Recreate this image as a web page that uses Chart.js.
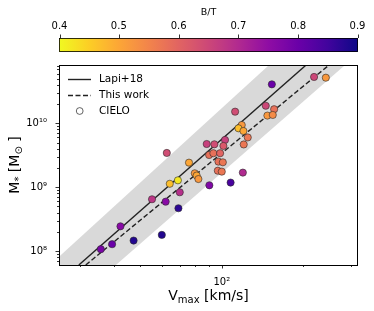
<!DOCTYPE html>
<html>
<head>
<meta charset="utf-8">
<script src="https://cdn.jsdelivr.net/npm/chart.js@4"></script>
<style>
  body { margin: 0; background: #fff; }
  canvas { display: block; }
</style>
</head>
<body>
<canvas id="myChart" width="374" height="311"></canvas>
<script>
// CIELO galaxies: Vmax [km/s], stellar mass [Msun], bulge-to-total ratio
var vmax = [35.8, 39.4, 47.3, 42.3, 55.3, 60.1, 62.7, 62.1, 69.2, 64.3, 68.9, 70.0, 75.7, 79.5, 80.8,
            82.0, 90.0, 107.8, 119.6, 88.0, 93.9, 102.8, 101.4, 89.8, 93.1, 98.6, 97.2, 100.9, 96.7,
            100.0, 118.5, 115.2, 120.2, 124.7, 120.5, 112.0, 153.0, 145.3, 156.0, 147.3, 154.2, 219, 242];
var mstar = [1.07e8, 1.28e8, 1.46e8, 2.44e8, 6.47e8, 1.79e8, 3.43e9, 5.93e8, 4.68e8, 1.13e9, 1.28e9, 8.32e8,
             2.42e9, 1.65e9, 1.52e9, 1.34e9, 1.07e9, 1.18e9, 1.69e9, 4.74e9, 4.69e9, 5.48e9, 4.42e9, 3.19e9,
             3.40e9, 3.40e9, 2.51e9, 2.45e9, 1.81e9, 1.75e9, 9.4e9, 8.35e9, 7.57e9, 6.0e9, 4.66e9, 1.52e10,
             4.07e10, 1.88e10, 1.66e10, 1.32e10, 1.35e10, 5.31e10, 5.17e10];
var bt = [0.78, 0.80, 0.88, 0.76, 0.68, 0.88, 0.64, 0.76, 0.87, 0.47, 0.42, 0.69, 0.50, 0.52, 0.50,
          0.52, 0.77, 0.84, 0.70, 0.66, 0.64, 0.66, 0.62, 0.58, 0.58, 0.60, 0.58, 0.57, 0.58,
          0.57, 0.52, 0.47, 0.50, 0.57, 0.57, 0.64, 0.80, 0.65, 0.58, 0.52, 0.54, 0.65, 0.52];

// relations (end points)
var lapiV = [29.7, 204.7];
var lapiM = [6.05e7, 8.17e10];
var workV = [31.5, 248.8];
var workM = [6.05e7, 8.17e10];
// grey band outline (clipped to the plot area)
var bandV = [23.25, 149.4, 285.1, 40.7];
var bandM = [6.05e7, 8.17e10, 8.17e10, 6.05e7];

// axes
var xMin = 25.1, xMax = 318;
var yMin = 6.05e7, yMax = 8.17e10;
var xTicks = [30, 40, 50, 60, 70, 80, 90, 100, 200, 300];
var yTicks = [7e7, 8e7, 9e7, 1e8, 2e8, 3e8, 4e8, 5e8, 6e8, 7e8, 8e8, 9e8,
              1e9, 2e9, 3e9, 4e9, 5e9, 6e9, 7e9, 8e9, 9e9,
              1e10, 2e10, 3e10, 4e10, 5e10, 6e10, 7e10, 8e10];
var xLabels = {100: '10²'};
var yLabels = {1e8: '10⁸', 1e9: '10⁹', 1e10: '10¹⁰'};

// colorbar
var cbMin = 0.4, cbMax = 0.9;
var cbTicks = [0.4, 0.5, 0.6, 0.7, 0.8, 0.9];

// plasma colormap stops
var plasma = ['#0d0887', '#41049d', '#6a00a8', '#8f0da4', '#b12a90', '#cc4778',
              '#e16462', '#f2844b', '#fca636', '#fcce25', '#f0f921'];

function hexRgb(h) {
    return [parseInt(h.substr(1, 2), 16), parseInt(h.substr(3, 2), 16), parseInt(h.substr(5, 2), 16)];
}
function plasmaColor(t) {
    t = Math.max(0, Math.min(1, t));
    var f = t * (plasma.length - 1);
    var i = Math.min(Math.floor(f), plasma.length - 2);
    var a = hexRgb(plasma[i]), b = hexRgb(plasma[i + 1]);
    var u = f - i;
    return 'rgb(' + [0, 1, 2].map(function (k) { return Math.round(a[k] + (b[k] - a[k]) * u); }).join(',') + ')';
}
// reversed: low B/T yellow, high B/T navy
function btColor(v) {
    return plasmaColor((cbMax - v) / (cbMax - cbMin));
}

function pts(xs, ys) {
    return xs.map(function (x, i) { return {x: x, y: ys[i]}; });
}

var FONT = '"DejaVu Sans", sans-serif';

var decor = {
    id: 'decor',
    afterDraw: function (chart) {
        var ctx = chart.ctx, a = chart.chartArea;
        var xs = chart.scales.x, ys = chart.scales.y;
        ctx.save();
        // frame
        ctx.strokeStyle = '#000';
        ctx.lineWidth = 1;
        ctx.strokeRect(a.left + 0.5, a.top + 0.5, a.right - a.left - 1, a.bottom - a.top);
        // tick marks
        ctx.lineWidth = 0.8;
        ctx.beginPath();
        xs.ticks.forEach(function (t) {
            var p = Math.round(xs.getPixelForValue(t.value)) + 0.5;
            var len = xLabels[t.value] ? 3.5 : 2;
            ctx.moveTo(p, a.bottom); ctx.lineTo(p, a.bottom + len);
        });
        ys.ticks.forEach(function (t) {
            var p = Math.round(ys.getPixelForValue(t.value)) + 0.5;
            var len = yLabels[t.value] ? 3.5 : 2;
            ctx.moveTo(a.left, p); ctx.lineTo(a.left - len, p);
        });
        ctx.stroke();

        // axis titles
        ctx.fillStyle = '#000';
        ctx.textBaseline = 'alphabetic';
        function mixed(parts, cx, cy) {
            var w = 0;
            parts.forEach(function (p) { ctx.font = p[1] + 'px ' + FONT; w += ctx.measureText(p[0]).width; });
            var x = cx - w / 2;
            parts.forEach(function (p) {
                ctx.font = p[1] + 'px ' + FONT;
                ctx.fillText(p[0], x, cy + p[2]);
                x += ctx.measureText(p[0]).width;
            });
        }
        ctx.textAlign = 'left';
        mixed([['V', 14, 0], ['max', 10, 3], [' [km/s]', 14, 0]], (a.left + a.right) / 2, 300);
        ctx.save();
        ctx.translate(19, (a.top + a.bottom) / 2);
        ctx.rotate(-Math.PI / 2);
        mixed([['M', 14, 0], ['*', 10, 3], [' [M', 14, 0], ['⊙', 10, 3], [' ]', 14, 0]], 0, 0);
        ctx.restore();

        // legend
        ctx.strokeStyle = '#222';
        ctx.lineWidth = 1.4;
        ctx.beginPath(); ctx.moveTo(68, 79.5); ctx.lineTo(91, 79.5); ctx.stroke();
        ctx.setLineDash([5, 2.5]);
        ctx.beginPath(); ctx.moveTo(68, 95.5); ctx.lineTo(91, 95.5); ctx.stroke();
        ctx.setLineDash([]);
        ctx.lineWidth = 0.7;
        ctx.beginPath(); ctx.arc(79.7, 111, 3.4, 0, Math.PI * 2); ctx.stroke();
        ctx.font = '10.5px ' + FONT;
        ctx.textBaseline = 'middle';
        ctx.fillText('Lapi+18', 99, 79.5);
        ctx.fillText('This work', 99, 95.5);
        ctx.fillText('CIELO', 99, 111);

        // colorbar
        var cx0 = a.left, cx1 = a.right, cy0 = 38, cy1 = 52;
        var g = ctx.createLinearGradient(cx0, 0, cx1, 0);
        for (var k = 0; k <= 20; k++) {
            g.addColorStop(k / 20, btColor(cbMin + (cbMax - cbMin) * k / 20));
        }
        ctx.fillStyle = g;
        ctx.fillRect(cx0, cy0, cx1 - cx0, cy1 - cy0);
        ctx.strokeStyle = '#000';
        ctx.lineWidth = 0.8;
        ctx.strokeRect(cx0 + 0.5, cy0 + 0.5, cx1 - cx0 - 1, cy1 - cy0 - 1);
        ctx.fillStyle = '#000';
        ctx.font = '10px ' + FONT;
        ctx.textAlign = 'center';
        ctx.textBaseline = 'alphabetic';
        ctx.beginPath();
        cbTicks.forEach(function (v) {
            var px = cx0 + (cx1 - cx0) * (v - cbMin) / (cbMax - cbMin);
            px = Math.min(Math.max(px, cx0 + 0.5), cx1 - 0.5);
            ctx.moveTo(Math.round(px) + 0.5, cy0);
            ctx.lineTo(Math.round(px) + 0.5, cy0 - 3.5);
            ctx.fillText(v.toFixed(1), px, 29);
        });
        ctx.stroke();
        ctx.font = '9.5px ' + FONT;
        ctx.fillText('B/T', (cx0 + cx1) / 2, 15);
        ctx.restore();
    }
};

var data = {
    datasets: [{
        label: 'CIELO',
        data: pts(vmax, mstar),
        pointRadius: 3.6,
        pointBackgroundColor: bt.map(btColor),
        pointBorderColor: '#2a2a2a',
        pointBorderWidth: 0.6,
        order: 0
    }, {
        label: 'Lapi+18',
        data: pts(lapiV, lapiM),
        showLine: true,
        pointRadius: 0,
        borderColor: '#222',
        borderWidth: 1.4,
        order: 1
    }, {
        label: 'This work',
        data: pts(workV, workM),
        showLine: true,
        pointRadius: 0,
        borderColor: '#222',
        borderWidth: 1.4,
        borderDash: [5, 2.5],
        order: 1
    }, {
        label: 'band',
        data: pts(bandV, bandM),
        showLine: true,
        pointRadius: 0,
        borderWidth: 0,
        borderColor: 'rgba(0,0,0,0)',
        backgroundColor: '#d9d9d9',
        fill: 'shape',
        order: 2
    }]
};

const config = {
    type: 'scatter',
    data: data,
    options: {
        responsive: false,
        animation: false,
        devicePixelRatio: 1,
        layout: { padding: { top: 65, right: 16, left: 0, bottom: 0 } },
        plugins: { legend: { display: false }, tooltip: { enabled: false } },
        scales: {
            x: {
                type: 'logarithmic',
                min: xMin, max: xMax,
                grid: { display: false },
                border: { display: false },
                afterBuildTicks: function (s) { s.ticks = xTicks.map(function (v) { return {value: v}; }); },
                afterFit: function (s) { s.height = 46; },
                ticks: {
                    autoSkip: false, maxRotation: 0, padding: 3,
                    color: '#000', font: { family: FONT, size: 10 },
                    callback: function (v) { return xLabels[v] || ''; }
                }
            },
            y: {
                type: 'logarithmic',
                min: yMin, max: yMax,
                grid: { display: false },
                border: { display: false },
                afterBuildTicks: function (s) { s.ticks = yTicks.map(function (v) { return {value: v}; }); },
                afterFit: function (s) { s.width = 59; },
                ticks: {
                    autoSkip: false, padding: 4,
                    color: '#000', font: { family: FONT, size: 10 },
                    callback: function (v) { return yLabels[v] || ''; }
                }
            }
        }
    },
    plugins: [decor]
};

const myChart = new Chart(document.getElementById('myChart'), config);
</script>
</body>
</html>
